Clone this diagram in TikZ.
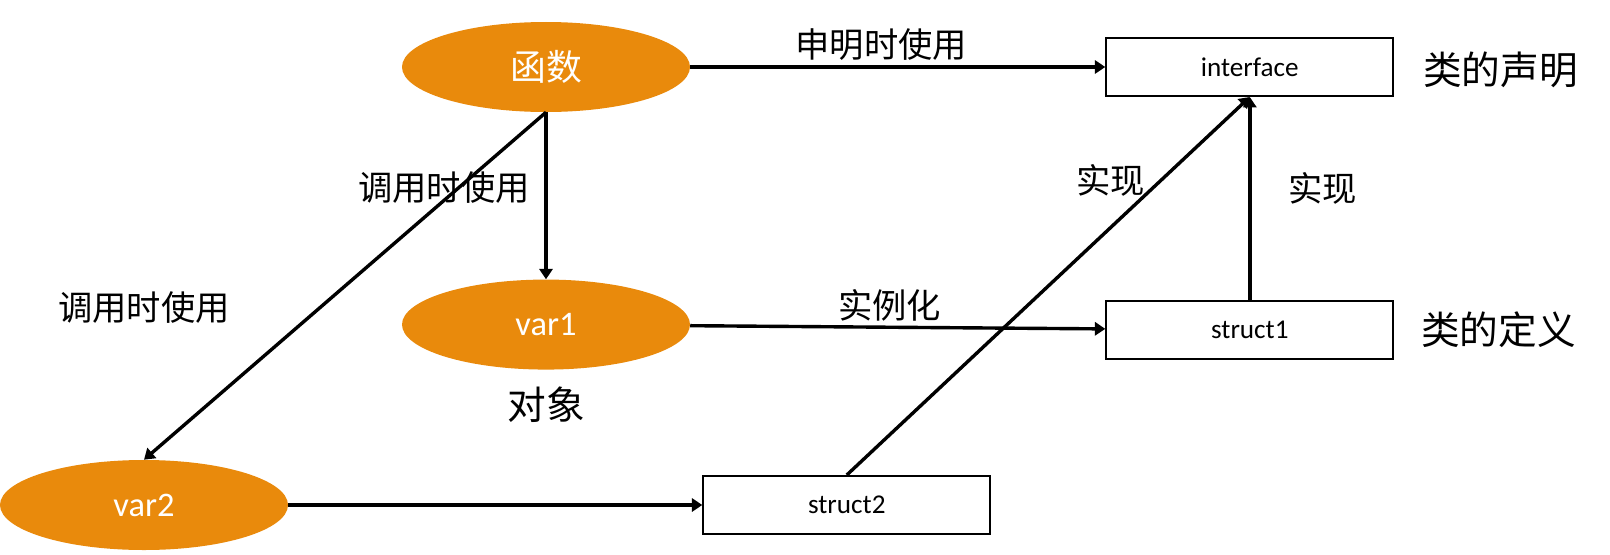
\documentclass[tikz,border=0pt]{standalone}
\usepackage{fontspec}
\setmainfont{Carlito}
\newfontfamily\cjk{Noto Sans CJK SC}
\usetikzlibrary{positioning,arrows.meta,shapes.geometric}
\definecolor{varorange}{RGB}{233,138,12}

\begin{document}
\begin{tikzpicture}[
    x=0.25mm, y=-0.25mm,
    obj/.style={ellipse, fill=varorange, text=white, minimum width=72mm,
                minimum height=22.5mm, font=\fontsize{24.5}{28}\selectfont},
    cls/.style={rectangle, draw, line width=0.5mm, minimum width=71.75mm,
                minimum height=14.5mm, font=\fontsize{19.3}{23}\selectfont},
    lbl/.style={font=\cjk\fontsize{24.4}{28}\selectfont},
    note/.style={font=\cjk\fontsize{27.5}{32}\selectfont},
    arr/.style={->, >={Triangle[length=2.6mm, width=3.3mm]}, line width=0.85mm},
]
    \useasboundingbox (0,0) rectangle (1610,554);
    \node[obj, font=\cjk\fontsize{25.5}{30}\selectfont] (func) at (546,67) {函数};
    \node[obj, below=41.75mm of func] (var1) {var1};
    \node[obj] (var2) at (144,505) {var2};
    \node[cls, right=103.75mm of func] (iface) {interface};
    \node[cls, below=50.75mm of iface] (struct1) {struct1};
    \node[cls, right=103.5mm of var2] (struct2) {struct2};
    %% side notes
    \node[note, below=3mm of var1] (objnote) {对象};
    \node[note, right=6mm of iface, yshift=-0.6mm] (declnote) {类的声明};
    \node[note, right=5.5mm of struct1] (defnote) {类的定义};
    \node[lbl, above=32.75mm of var2] (callnote) {调用时使用};
    %% connectors
    \draw[arr] (func) -- node[lbl, above, pos=0.46]{申明时使用} (iface);
    \draw[arr] (func) -- node[lbl, left=2.5mm, pos=0.45]{调用时使用} (var1);
    \draw[arr] (func.south) -- (var2.north);
    \draw[arr] (var1) -- node[lbl, above, pos=0.48]{实例化} (struct1);
    \draw[arr] (var2) -- (struct2);
    \draw[arr] (struct2.north) -- node[lbl, left=2.5mm, pos=0.78]{实现} (iface.south);
    \draw[arr] (struct1) -- node[lbl, right=8mm, pos=0.55]{实现} (iface);
\end{tikzpicture}
\end{document}
